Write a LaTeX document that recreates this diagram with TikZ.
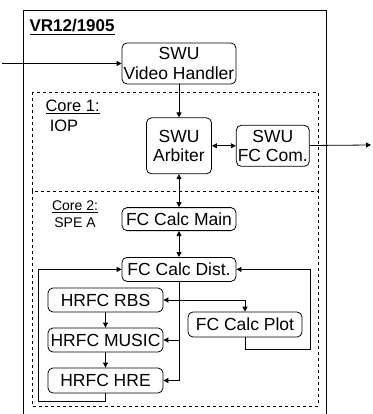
\documentclass[tikz,border=0pt]{standalone}
\usepackage{fontspec}
\setmainfont{Liberation Sans}
\usepackage{tikz}
\usetikzlibrary{arrows.meta,positioning}

\begin{document}
\begin{tikzpicture}[
    x=1pt, y=-1pt,
    unit/.style={rectangle, rounded corners=5pt, draw, line width=0.8pt,
        inner sep=0pt, align=center, font=\fontsize{17.5}{19.5}\selectfont},
    core/.style={draw, dashed, line width=0.8pt},
    arr/.style={-{Triangle[length=5pt,width=5pt]}, line width=0.8pt},
    dbl/.style={{Triangle[length=5pt,width=5pt]}-{Triangle[length=5pt,width=5pt]}, line width=0.8pt}
]
\useasboundingbox (0,0) rectangle (372,414);

% outer frame and the two cores
\draw[line width=0.8pt] (23,414) -- (23,10) -- (326,10) -- (326,414);
\draw[core] (32,92) rectangle (318,191);
\draw[core] (32,191) rectangle (318,406);

\node[anchor=west, font=\fontsize{17}{19}\selectfont] (title) at (26,27) {\underline{\textbf{VR12/1905}}};
\node[anchor=west, font=\fontsize{16.5}{19}\selectfont] (c1) at (42,107) {\underline{Core 1:}};
\node[font=\fontsize{16.5}{19}\selectfont] (iop) at (64,126) {IOP};
\node[align=center, font=\fontsize{14}{17}\selectfont] (c2) at (75,214) {\underline{Core 2:}\\SPE A};

\node[unit, minimum width=114pt, minimum height=41pt] (vh) at (179,63.5) {SWU\\Video Handler};
\node[unit, minimum width=65pt, minimum height=56pt, below=33pt of vh] (arb) {SWU\\Arbiter};
\node[unit, minimum width=73pt, minimum height=41pt, right=24pt of arb] (fccom) {SWU\\FC Com.};
\node[unit, minimum width=114pt, minimum height=23pt, below=33pt of arb] (main) {FC Calc Main};
\node[unit, minimum width=114pt, minimum height=24pt, below=26pt of main] (dist) {FC Calc Dist.};
\node[unit, minimum width=115pt, minimum height=24pt] (rbs) at (105.5,300) {HRFC RBS};
\node[unit, minimum width=115pt, minimum height=24pt] (music) at (105.5,340) {HRFC MUSIC};
\node[unit, minimum width=115pt, minimum height=25pt] (hre) at (105.5,380.5) {HRFC HRE};
\node[unit, minimum width=114pt, minimum height=25pt] (plot) at (245,324.5) {FC Calc Plot};

\coordinate (in) at (2,63.5);
\coordinate (out) at (371,145);
\coordinate (lp) at (38,401);
\coordinate (rp) at (310,349);

\draw[arr] (in) -- (vh);
\draw[arr] (vh) -- (arb);
\draw[dbl] (arb) -- (fccom);
\draw[arr] (fccom) -- (out);
\draw[dbl] (arb) -- (main);
\draw[dbl] (main) -- (dist);
\draw[arr] (rbs) -- (music);
\draw[arr] (music) -- (hre);
\draw[arr] (dist.south) |- (music.east);
\draw[arr] (dist.south) |- (hre.east);
\draw[dbl] (rbs.east) -| (plot.north);

% feedback into FC Calc Dist.
\draw[arr] (hre.south) |- (lp) |- (dist.west);
\draw[arr] (plot.south) |- (rp) |- (dist.east);
\end{tikzpicture}
\end{document}
